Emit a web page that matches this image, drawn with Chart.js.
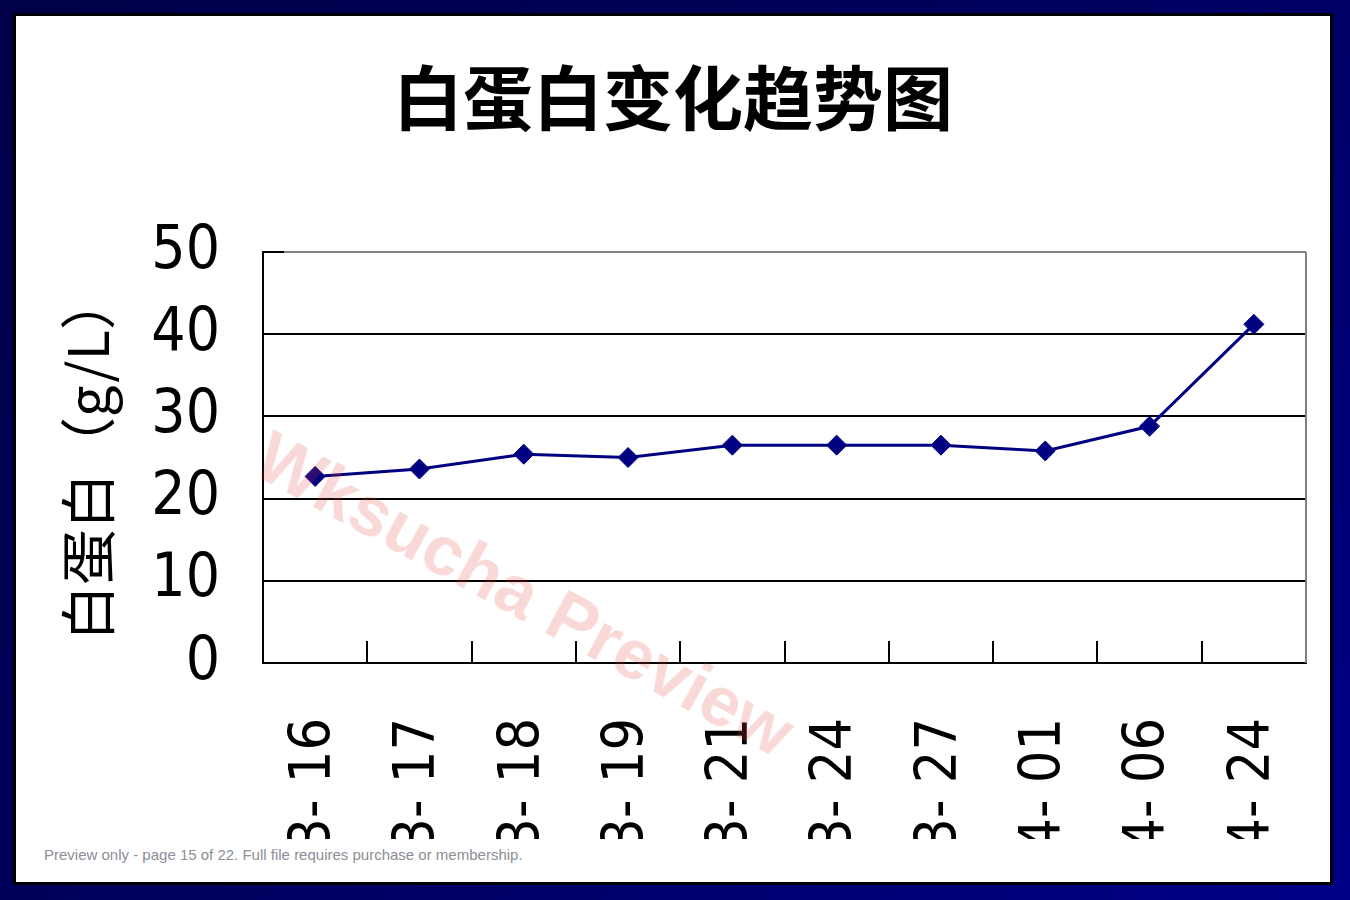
<!DOCTYPE html>
<html>
<head>
<meta charset="utf-8">
<script src="https://cdn.jsdelivr.net/npm/chart.js@4"></script>
<style>
  html, body { margin: 0; padding: 0; }
  body { width: 1350px; height: 900px; background: linear-gradient(135deg, #000048 0%, #000060 50%, #000088 100%); position: relative; overflow: hidden; }
  #page { position: absolute; left: 16px; top: 16px; width: 1314px; height: 866px; background: #fff; outline: 3px solid #000; }
  #wrap { position: absolute; left: 0; top: 0; width: 1314px; height: 823px; }
  #footer { position: absolute; left: 28px; top: 830px; font: 15px 'Liberation Sans', Arial, sans-serif; color: #8a8e96; }
  #wm { position: absolute; left: 509px; top: 578px; transform: translate(-50%, -50%) rotate(28.5deg); font: bold 71px 'Liberation Sans', Arial, sans-serif; color: rgba(225, 60, 60, 0.2); white-space: nowrap; pointer-events: none; }
</style>
</head>
<body>
<div id="page">
  <div id="wrap"><canvas id="c" width="1314" height="823"></canvas></div>
  <div id="footer">Preview only - page 15 of 22. Full file requires purchase or membership.</div>
  <div id="wm">Wksucha Preview</div>
</div>
<script>
const chartTitle = '白蛋白变化趋势图';
const yAxisTitle = '白蛋白（g/L）';
const categories = ['3- 16', '3- 17', '3- 18', '3- 19', '3- 21', '3- 24', '3- 27', '4- 01', '4- 06', '4- 24'];
const albumin = [22.7, 23.6, 25.4, 25.0, 26.5, 26.5, 26.5, 25.8, 28.8, 41.2];
const yTicks = [0, 10, 20, 30, 40, 50];

const tickFont = "'Liberation Sans Narrow', 'DejaVu Sans Condensed', 'DejaVu Sans', sans-serif";

const innerTicks = {
  id: 'innerTicks',
  afterDatasetsDraw(chart) {
    const { ctx, chartArea } = chart;
    const x = chart.scales.x;
    ctx.save();
    ctx.strokeStyle = '#000';
    ctx.lineWidth = 2;
    ctx.beginPath();
    for (let i = 0; i < categories.length; i++) {
      const px = Math.round(x.getPixelForValue(i + 0.5));
      ctx.moveTo(px, chartArea.bottom);
      ctx.lineTo(px, chartArea.bottom - 22);
    }
    ctx.moveTo(chartArea.left, chartArea.top);
    ctx.lineTo(chartArea.left + 21, chartArea.top);
    ctx.stroke();
    ctx.strokeStyle = '#808080';
    ctx.beginPath();
    ctx.moveTo(chartArea.right, chartArea.top);
    ctx.lineTo(chartArea.right, chartArea.bottom);
    ctx.stroke();
    ctx.restore();
  }
};

new Chart(document.getElementById('c'), {
  type: 'line',
  data: {
    labels: categories,
    datasets: [{
      data: albumin,
      borderColor: '#000080',
      backgroundColor: '#000080',
      borderWidth: 3,
      pointStyle: 'rectRot',
      pointRadius: 10,
      pointBorderWidth: 1,
      pointBackgroundColor: '#000080',
      pointBorderColor: '#000080',
      tension: 0,
      fill: false
    }]
  },
  options: {
    responsive: false,
    animation: false,
    layout: { padding: { left: 24, right: 24, top: 0, bottom: 0 } },
    plugins: {
      legend: { display: false },
      tooltip: { enabled: false },
      title: {
        display: true,
        text: chartTitle,
        color: '#000',
        font: { family: "'Noto Sans CJK SC', sans-serif", size: 70, weight: 'bold', lineHeight: 1.2 },
        padding: { top: 40, bottom: 112 }
      }
    },
    scales: {
      x: {
        type: 'category',
        offset: true,
        afterFit(s) { s.height = 176; s.paddingLeft = 0; s.paddingRight = 0; },
        grid: { display: false, drawTicks: false },
        border: { display: true, color: '#000', width: 2 },
        ticks: {
          color: '#000',
          maxRotation: 90,
          minRotation: 90,
          autoSkip: false,
          padding: 55,
          font: { family: tickFont, size: 57 }
        }
      },
      y: {
        min: 0,
        max: 50,
        afterFit(s) { s.width = 223; },
        afterBuildTicks(s) { s.ticks = yTicks.map(v => ({ value: v })); },
        grid: {
          drawTicks: false,
          lineWidth: 2,
          color: c => (c.tick && c.tick.value === 50 ? '#808080' : '#000')
        },
        border: { display: true, color: '#000', width: 2 },
        title: {
          display: true,
          text: yAxisTitle,
          color: '#000',
          font: { family: "'Noto Sans CJK SC', sans-serif", size: 56, lineHeight: 1.2 },
          padding: { top: 14, bottom: 0 }
        },
        ticks: {
          color: '#000',
          padding: 43,
          font: { family: tickFont, size: 60 }
        }
      }
    }
  },
  plugins: [innerTicks]
});
</script>
</body>
</html>
